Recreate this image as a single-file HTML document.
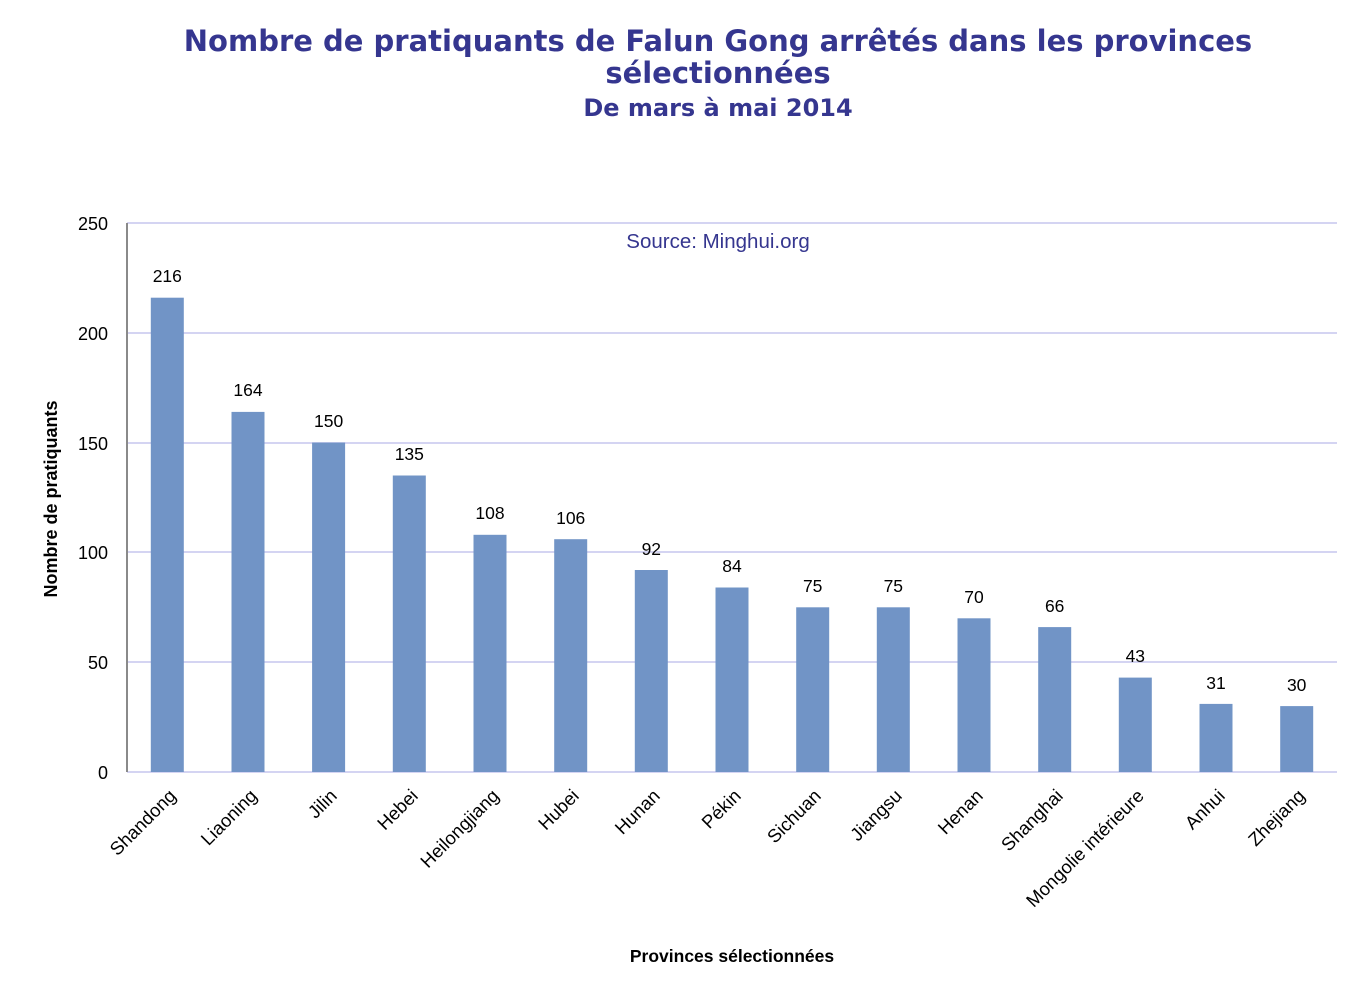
<!DOCTYPE html>
<html><head><meta charset="utf-8"><style>body{margin:0;background:#fff}</style></head><body>
<svg width="1367" height="990" xmlns="http://www.w3.org/2000/svg" font-family="Liberation Sans, DejaVu Sans, sans-serif">
<g font-family="DejaVu Sans, sans-serif" font-weight="bold" fill="#35368f" text-anchor="middle">
<text x="718" y="51" font-size="29">Nombre de pratiquants de Falun Gong arrêtés dans les provinces</text>
<text x="718" y="83" font-size="29">sélectionnées</text>
<text x="718" y="116" font-size="24">De mars à mai 2014</text>
</g>
<g stroke="#d4d4f2" stroke-width="2">
<line x1="127" y1="223" x2="1337" y2="223"/><line x1="127" y1="333" x2="1337" y2="333"/>
<line x1="127" y1="443" x2="1337" y2="443"/><line x1="127" y1="552" x2="1337" y2="552"/>
<line x1="127" y1="662" x2="1337" y2="662"/><line x1="127" y1="772" x2="1337" y2="772"/>
</g>
<line x1="127" y1="223" x2="127" y2="772" stroke="#8a8a8a" stroke-width="2"/>
<g font-size="18" text-anchor="end" fill="#000">
<text x="108" y="230">250</text><text x="108" y="340">200</text><text x="108" y="450">150</text>
<text x="108" y="559">100</text><text x="108" y="669">50</text><text x="108" y="779">0</text>
</g>
<text x="718" y="248" font-size="20.5" fill="#35368f" text-anchor="middle">Source: Minghui.org</text>
<text transform="translate(57,499) rotate(-90)" font-size="18" font-weight="bold" text-anchor="middle">Nombre de pratiquants</text>
<text x="732" y="962" font-size="17.5" font-weight="bold" text-anchor="middle">Provinces sélectionnées</text>
<g fill="#7194c6">
<rect x="150.8" y="297.7" width="33" height="474.3"/>
<rect x="231.5" y="411.9" width="33" height="360.1"/>
<rect x="312.1" y="442.6" width="33" height="329.4"/>
<rect x="392.8" y="475.5" width="33" height="296.5"/>
<rect x="473.5" y="534.8" width="33" height="237.2"/>
<rect x="554.2" y="539.2" width="33" height="232.8"/>
<rect x="634.8" y="570" width="33" height="202"/>
<rect x="715.5" y="587.5" width="33" height="184.5"/>
<rect x="796.2" y="607.3" width="33" height="164.7"/>
<rect x="876.8" y="607.3" width="33" height="164.7"/>
<rect x="957.5" y="618.3" width="33" height="153.7"/>
<rect x="1038.2" y="627.1" width="33" height="144.9"/>
<rect x="1118.8" y="677.6" width="33" height="94.4"/>
<rect x="1199.5" y="703.9" width="33" height="68.1"/>
<rect x="1280.2" y="706.1" width="33" height="65.9"/>
</g>
<g font-size="17.5" text-anchor="middle">
<text x="167.3" y="282">216</text><text x="248" y="396">164</text><text x="328.6" y="427">150</text>
<text x="409.3" y="460">135</text><text x="490" y="519">108</text><text x="570.7" y="524">106</text>
<text x="651.3" y="555">92</text><text x="732" y="572">84</text><text x="812.7" y="592">75</text>
<text x="893.3" y="592">75</text><text x="974" y="603">70</text><text x="1054.7" y="612">66</text>
<text x="1135.3" y="662">43</text><text x="1216" y="689">31</text><text x="1296.7" y="691">30</text>
</g>
<g font-size="18.5" text-anchor="end">
<text transform="translate(177,797) rotate(-45)">Shandong</text>
<text transform="translate(258,797) rotate(-45)">Liaoning</text>
<text transform="translate(338,797) rotate(-45)">Jilin</text>
<text transform="translate(419,797) rotate(-45)">Hebei</text>
<text transform="translate(500,797) rotate(-45)">Heilongjiang</text>
<text transform="translate(580,797) rotate(-45)">Hubei</text>
<text transform="translate(661,797) rotate(-45)">Hunan</text>
<text transform="translate(742,797) rotate(-45)">Pékin</text>
<text transform="translate(822,797) rotate(-45)">Sichuan</text>
<text transform="translate(903,797) rotate(-45)">Jiangsu</text>
<text transform="translate(984,797) rotate(-45)">Henan</text>
<text transform="translate(1064,797) rotate(-45)">Shanghai</text>
<text transform="translate(1145,797) rotate(-45)">Mongolie intérieure</text>
<text transform="translate(1226,797) rotate(-45)">Anhui</text>
<text transform="translate(1306,797) rotate(-45)">Zhejiang</text>
</g>
</svg>
</body></html>
